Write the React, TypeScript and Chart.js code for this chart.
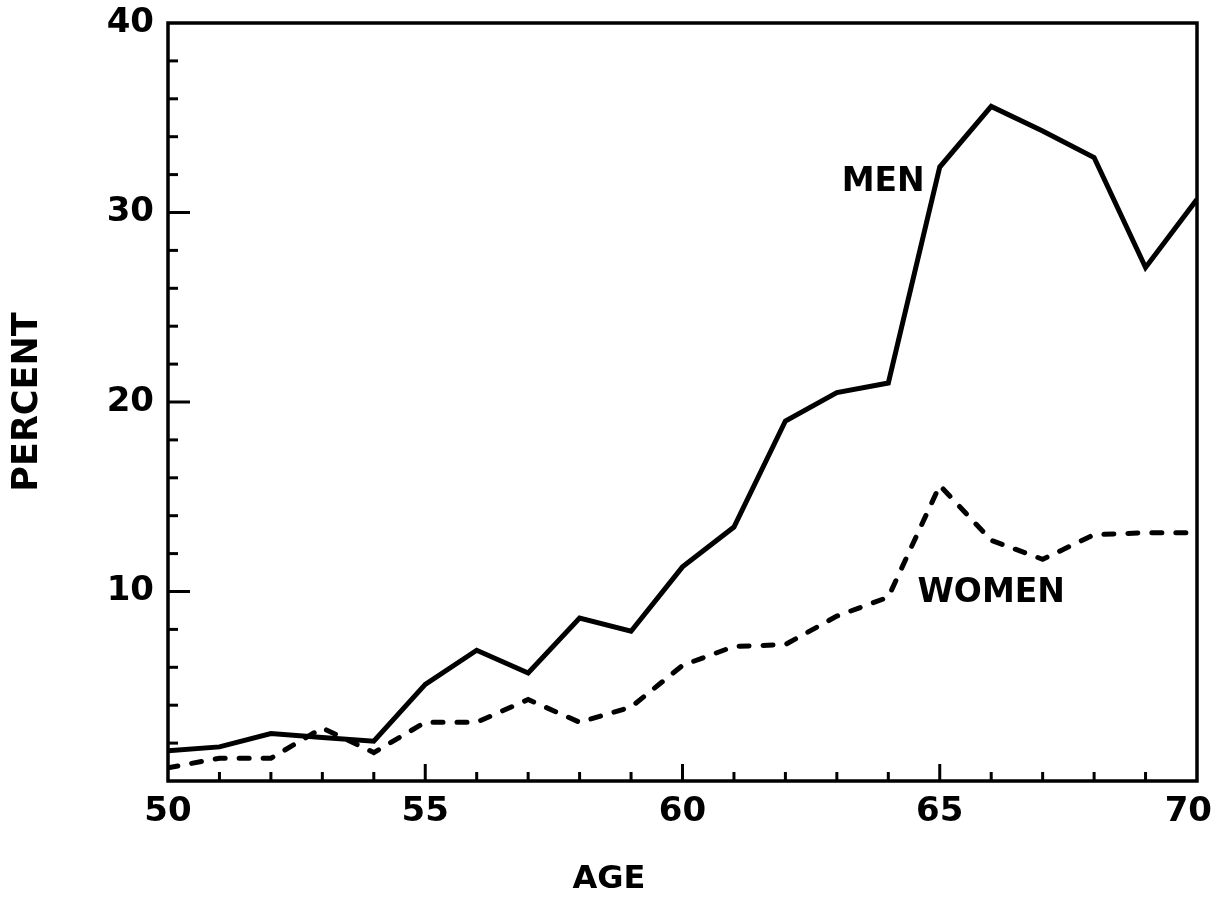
import React, { useEffect, useRef } from "react";
import { Chart, registerables } from "chart.js";

Chart.register(...registerables);

// ---- Data ----
const AGES = [50, 51, 52, 53, 54, 55, 56, 57, 58, 59, 60, 61, 62, 63, 64, 65, 66, 67, 68, 69, 70];
const MEN = [1.6, 1.8, 2.5, 2.3, 2.1, 5.1, 6.9, 5.7, 8.6, 7.9, 11.3, 13.4, 19.0, 20.5, 21.0, 32.4, 35.6, 34.3, 32.9, 27.1, 30.7];
const WOMEN = [0.7, 1.2, 1.2, 2.8, 1.5, 3.1, 3.1, 4.3, 3.1, 3.9, 6.1, 7.1, 7.2, 8.7, 9.7, 15.6, 12.7, 11.7, 13.0, 13.1, 13.1];
const X_LABELED = [50, 55, 60, 65, 70];
const Y_LABELED = [10, 20, 30, 40];
const X_TITLE = "AGE";
const Y_TITLE = "PERCENT";
const SERIES_NAMES = ["MEN", "WOMEN"];
// label anchors in data units: [age, percent]
const SERIES_LABEL_POS = [
  [63.9, 31.6],
  [66.0, 9.9],
];

const FONT = "'DejaVu Sans', 'Liberation Sans', sans-serif";

const framePlugin = {
  id: "framePlugin",
  afterDraw(chart: any) {
    const { ctx, chartArea: a, scales, width } = chart;
    const x = scales.x;
    const y = scales.y;
    ctx.save();
    ctx.strokeStyle = "#000";
    ctx.lineWidth = 3.5;
    ctx.lineJoin = "miter";
    ctx.strokeRect(a.left, a.top, a.right - a.left, a.bottom - a.top);

    ctx.lineWidth = 3;
    const seg = (x1: number, y1: number, x2: number, y2: number) => {
      ctx.beginPath();
      ctx.moveTo(x1, y1);
      ctx.lineTo(x2, y2);
      ctx.stroke();
    };
    for (let v = 51; v < 70; v++) {
      const px = x.getPixelForValue(v);
      const len = v % 5 === 0 ? 17 : 9;
      seg(px, a.bottom, px, a.bottom - len);
    }
    for (let v = 2; v < 40; v += 2) {
      const py = y.getPixelForValue(v);
      const len = v % 10 === 0 ? 22 : 10;
      seg(a.left, py, a.left + len, py);
    }

    ctx.fillStyle = "#000";
    ctx.textAlign = "center";
    ctx.textBaseline = "middle";

    // x tick labels (kept inside the canvas like the original)
    ctx.font = `bold 34px ${FONT}`;
    X_LABELED.forEach((v) => {
      const label = String(v);
      const half = ctx.measureText(label).width / 2;
      let px = x.getPixelForValue(v);
      px = Math.min(px, width - 6 - half);
      ctx.fillText(label, px, a.bottom + 31);
    });

    ctx.font = `bold 33px ${FONT}`;
    SERIES_NAMES.forEach((name, i) => {
      const [ax, ay] = SERIES_LABEL_POS[i];
      ctx.fillText(name, x.getPixelForValue(ax), y.getPixelForValue(ay));
    });

    ctx.font = `bold 32px ${FONT}`;
    ctx.fillText(X_TITLE, 609, 880);

    ctx.save();
    ctx.translate(28, 402);
    ctx.rotate(-Math.PI / 2);
    ctx.font = `bold 35px ${FONT}`;
    ctx.fillText(Y_TITLE, 0, 0);
    ctx.restore();

    ctx.restore();
  },
};

export default function App() {
  const ref = useRef<HTMLCanvasElement | null>(null);

  useEffect(() => {
    if (!ref.current) return;
    const chart = new Chart(ref.current, {
      type: "line",
      data: {
        datasets: [
          {
            label: SERIES_NAMES[0],
            data: AGES.map((a, i) => ({ x: a, y: MEN[i] })),
            borderColor: "#000",
            borderWidth: 5,
            pointRadius: 0,
            tension: 0,
            borderJoinStyle: "miter",
          },
          {
            label: SERIES_NAMES[1],
            data: AGES.map((a, i) => ({ x: a, y: WOMEN[i] })),
            borderColor: "#000",
            borderWidth: 5,
            borderDash: [10, 14],
            borderCapStyle: "round",
            pointRadius: 0,
            tension: 0,
          },
        ],
      },
      options: {
        animation: false,
        responsive: false,
        maintainAspectRatio: false,
        layout: { padding: { top: 23, right: 21, left: 0, bottom: 0 } },
        plugins: {
          legend: { display: false },
          tooltip: { enabled: false },
          title: { display: false },
        },
        scales: {
          x: {
            type: "linear",
            min: 50,
            max: 70,
            grid: { display: false, drawTicks: false },
            border: { display: false },
            afterFit: (s: any) => {
              s.height = 130;
              s.paddingLeft = 0;
              s.paddingRight = 0;
            },
            ticks: {
              stepSize: 5,
              display: false,
            },
          },
          y: {
            type: "linear",
            min: 0,
            max: 40,
            grid: { display: false, drawTicks: false },
            border: { display: false },
            afterFit: (s: any) => {
              s.width = 168;
              s.paddingTop = 0;
              s.paddingBottom = 0;
            },
            ticks: {
              stepSize: 10,
              padding: 14,
              color: "#000",
              font: { family: FONT, size: 34, weight: "bold" },
              callback: (v: any) => (Y_LABELED.includes(Number(v)) ? String(v) : ""),
            },
          },
        },
      },
      plugins: [framePlugin],
    } as any);
    return () => chart.destroy();
  }, []);

  return (
    <div style={{ position: "absolute", left: 0, top: 0, width: 1218, height: 911, background: "#fff" }}>
      <canvas ref={ref} width={1218} height={911} style={{ display: "block" }} />
    </div>
  );
}
